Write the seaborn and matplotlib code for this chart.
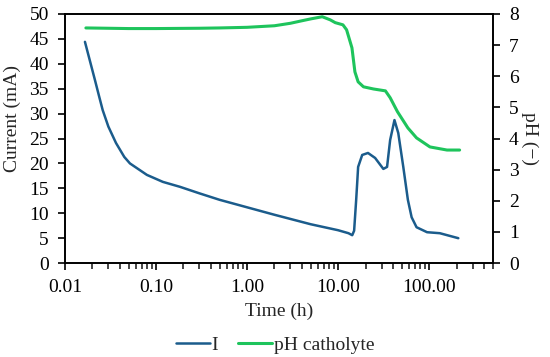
import numpy as np
import pandas as pd
import matplotlib
matplotlib.use("Agg")
import matplotlib.pyplot as plt
import seaborn as sns
from matplotlib.ticker import FixedLocator, FuncFormatter, LogLocator, NullFormatter
from matplotlib.lines import Line2D

# Current (mA) vs time (h)
time_i = [0.0166, 0.0214, 0.0238, 0.026, 0.030, 0.0364, 0.0449, 0.0518, 0.0795,
          0.119, 0.184, 0.3, 0.5, 1.0, 2.0, 5.0, 10.0, 13.0, 14.3, 15.0, 15.8,
          16.2, 16.6, 18.4, 21.3, 25.5, 31.4, 34.5, 37.3, 41.6, 45.8, 52.0, 58.4,
          64.2, 72.7, 94.8, 131.0, 209.0]
current = [44.4, 36.7, 33.4, 30.7, 27.4, 24.1, 21.3, 20.0, 17.7,
           16.3, 15.3, 14.0, 12.7, 11.2, 9.7, 7.8, 6.6, 6.0, 5.6, 6.5, 12.7,
           16.0, 19.3, 21.7, 22.1, 21.1, 18.9, 19.3, 24.7, 28.7, 26.1, 19.3, 12.7,
           9.2, 7.2, 6.2, 6.0, 5.0]

# pH catholyte vs time (h)
time_ph = [0.017, 0.05, 0.1, 0.3, 0.5, 1.0, 2.0, 3.0, 4.0, 5.0, 6.7, 8.2, 9.3,
           11.3, 12.4, 14.2, 15.3, 16.6, 19.0, 24.5, 33.1, 37.3, 44.9, 58.4, 72.7,
           102.0, 157.0, 216.0]
ph = [7.55, 7.53, 7.53, 7.54, 7.55, 7.57, 7.62, 7.70, 7.78, 7.84, 7.91, 7.81, 7.72,
      7.65, 7.49, 6.91, 6.14, 5.82, 5.66, 5.59, 5.53, 5.31, 4.86, 4.34, 4.02,
      3.73, 3.63, 3.63]

blue = "#1B5C8C"
green = "#1EC45C"

sns.set_style("ticks")
plt.rcParams["font.family"] = ["Liberation Serif", "DejaVu Serif"]
fs = 14

df_i = pd.DataFrame({"t": time_i, "I": current})
df_ph = pd.DataFrame({"t": time_ph, "pH": ph})

fig, ax = plt.subplots(figsize=(5.5, 3.57), dpi=100)
fig.subplots_adjust(left=0.118, right=0.896, top=0.961, bottom=0.263)

sns.lineplot(data=df_i, x="t", y="I", ax=ax, color=blue, lw=1.8)
ax.set_xscale("log")
ax.set_xlim(0.01, 500)
ax.set_ylim(0, 50)
ax.set_yticks(range(0, 51, 5))
ax.xaxis.set_major_locator(FixedLocator([0.01, 0.1, 1, 10, 100]))
ax.xaxis.set_major_formatter(FuncFormatter(lambda v, p: f"{v:.2f}"))
ax.xaxis.set_minor_locator(LogLocator(base=10, subs=np.arange(2, 10)))
ax.xaxis.set_minor_formatter(NullFormatter())
ax.set_xlabel("Time (h)", fontsize=fs, labelpad=5)
ax.set_ylabel("Current (mA)", fontsize=fs)
ax.yaxis.set_label_coords(-0.103, 0.58)

ax2 = ax.twinx()
sns.lineplot(data=df_ph, x="t", y="pH", ax=ax2, color=green, lw=2.2)
ax2.set_ylim(0, 8)
ax2.set_yticks(range(0, 9))
ax2.set_ylabel("pH (\u2212)", rotation=270, labelpad=14, fontsize=fs)

for a in (ax, ax2):
    for s in a.spines.values():
        s.set_color("black")
        s.set_linewidth(1.2)
    a.tick_params(axis="both", which="major", direction="out", length=5, width=1.2,
                  colors="black", labelsize=fs, pad=6.5)
    a.tick_params(axis="x", which="minor", direction="out", length=4, width=1.2)

handles = [Line2D([], [], color=blue, lw=1.8), Line2D([], [], color=green, lw=2.2)]
fig.legend(handles, ["I", "pH catholyte"], loc="lower center", ncol=2, frameon=False,
           fontsize=fs, bbox_to_anchor=(0.5, -0.04), handlelength=1.75, columnspacing=1.0,
           handletextpad=0.1)

fig.savefig("out.png", dpi=100)
